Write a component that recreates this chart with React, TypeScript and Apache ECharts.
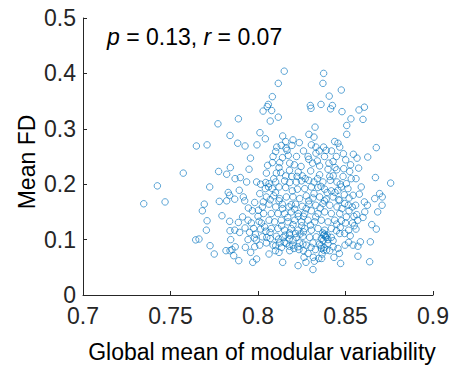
import React, { useEffect, useRef } from "react";
import * as echarts from "echarts";

// x: global mean of modular variability, y: mean FD
const subjects: [number, number][] = [
  [0.7347,0.1647],[0.7425,0.197],[0.7469,0.168],[0.7573,0.220],[0.7648,0.269],[0.7709,0.271],[0.7771,0.309],[0.7724,0.195],[0.7693,0.164],[0.7682,0.152],
  [0.7709,0.134],[0.7705,0.117],[0.7644,0.0995],[0.7663,0.101],[0.7726,0.089],[0.7750,0.074],[0.7775,0.223],[0.7779,0.169],[0.7794,0.143],[0.7821,0.218],
  [0.7842,0.230],[0.7840,0.288],[0.7888,0.318],[0.7884,0.274],[0.7926,0.269],[0.7994,0.271],[0.8011,0.293],[0.8042,0.282],[0.8029,0.332],[0.8053,0.340],
  [0.8059,0.344],[0.8078,0.333],[0.8082,0.358],[0.8116,0.382],[0.8150,0.404],[0.8116,0.321],[0.8070,0.314],[0.8141,0.287],[0.8375,0.400],[0.8371,0.382],
  [0.8407,0.359],[0.8476,0.370],[0.8360,0.344],[0.8299,0.342],[0.8303,0.337],[0.8425,0.342],[0.8415,0.336],[0.8480,0.331],[0.8531,0.318],[0.8507,0.306],
  [0.8507,0.290],[0.8577,0.334],[0.8608,0.339],[0.8600,0.317],[0.8326,0.303],[0.8291,0.290],[0.8676,0.266],[0.8627,0.249],[0.8671,0.212],[0.8758,0.202],
  [0.8695,0.183],[0.8710,0.177],[0.8667,0.174],[0.8709,0.162],[0.8684,0.150],[0.8625,0.162],[0.8579,0.182],[0.8650,0.127],[0.8676,0.119],[0.8642,0.096],
  [0.8638,0.060],[0.8571,0.070],[0.8472,0.057],[0.8314,0.046],[0.8229,0.053],[0.8274,0.059],[0.8141,0.059],[0.8063,0.074],[0.7992,0.065],[0.7970,0.059],
  [0.7890,0.062],[0.7861,0.071],[0.7840,0.080],[0.7817,0.080],[0.7851,0.082],[0.7870,0.087],[0.7928,0.086],[0.7958,0.077],[0.7981,0.087],[0.7844,0.100],
  [0.7840,0.116],[0.7867,0.117],[0.7888,0.131],[0.7838,0.133],[0.7830,0.185],[0.7838,0.180],[0.7867,0.173],[0.7821,0.170],[0.7869,0.210],[0.7899,0.212],
  [0.7935,0.204],[0.7949,0.227],[0.7957,0.247],[0.7893,0.189],[0.7916,0.177],[0.7924,0.170],[0.7945,0.157],[0.7968,0.152],[0.7981,0.167],[0.7912,0.141],
  [0.7943,0.135],[0.7962,0.130],[0.7926,0.121],[0.7895,0.113],[0.7952,0.113],[0.7979,0.103],[0.7943,0.100],[0.7975,0.120],[0.8015,0.119],[0.8006,0.133],
  [0.8038,0.123],[0.8025,0.105],[0.8050,0.104],[0.8069,0.113],[0.8101,0.089],[0.8118,0.101],[0.8135,0.086],[0.8120,0.077],[0.8181,0.080],[0.8179,0.101],
  [0.8200,0.099],[0.8227,0.087],[0.8234,0.082],[0.8257,0.092],[0.8263,0.068],[0.8286,0.075],[0.8303,0.086],[0.8328,0.082],[0.8316,0.068],[0.8322,0.061],
  [0.8347,0.066],[0.8364,0.066],[0.8375,0.081],[0.8362,0.084],[0.8366,0.074],[0.8392,0.081],[0.8410,0.080],[0.8430,0.087],[0.8434,0.068],[0.8465,0.075],
  [0.8457,0.084],[0.8497,0.090],[0.8518,0.095],[0.8543,0.090],[0.8571,0.088],[0.8585,0.096],[0.8527,0.107],[0.8495,0.111],[0.8467,0.111],[0.8518,0.117],
  [0.8560,0.119],[0.8570,0.135],[0.8548,0.142],[0.8564,0.145],[0.8539,0.159],[0.8516,0.162],[0.8558,0.162],[0.8608,0.168],[0.8520,0.175],[0.8543,0.180],
  [0.8493,0.181],[0.8476,0.195],[0.8505,0.201],[0.8533,0.210],[0.8524,0.223],[0.8575,0.229],[0.8529,0.235],[0.8501,0.244],[0.8545,0.254],[0.8566,0.247],
  [0.8488,0.255],[0.8467,0.267],[0.8438,0.277],[0.8457,0.274],[0.8375,0.267],[0.8390,0.261],[0.8331,0.267],[0.8305,0.271],[0.8236,0.275],[0.8200,0.280],
  [0.8194,0.270],[0.8158,0.277],[0.8133,0.270],[0.8107,0.267],[0.8101,0.259],[0.8166,0.261],[0.8173,0.252],[0.8086,0.250],[0.8082,0.239],[0.8124,0.239],
  [0.8181,0.238],[0.8208,0.235],[0.8246,0.232],[0.8286,0.250],[0.8331,0.256],[0.8339,0.242],[0.8312,0.238],[0.8352,0.233],[0.8400,0.227],[0.8429,0.241],
  [0.8448,0.250],[0.8450,0.226],[0.8410,0.214],[0.8352,0.217],[0.8301,0.224],[0.8253,0.215],[0.8223,0.214],[0.8194,0.214],[0.8158,0.215],[0.8130,0.221],
  [0.8105,0.220],[0.8055,0.234],[0.8048,0.220],[0.7992,0.204],[0.8015,0.200],[0.8044,0.203],[0.8063,0.201],[0.8101,0.204],[0.8152,0.206],[0.8181,0.203],
  [0.8219,0.204],[0.8248,0.206],[0.8290,0.207],[0.8320,0.204],[0.8371,0.204],[0.8413,0.207],[0.8451,0.204],[0.8486,0.214],[0.8514,0.192],[0.8457,0.189],
  [0.8419,0.188],[0.8381,0.191],[0.8343,0.194],[0.8305,0.195],[0.8267,0.192],[0.8225,0.191],[0.8196,0.188],[0.8158,0.194],[0.8120,0.195],[0.8082,0.192],
  [0.8042,0.192],[0.8010,0.183],[0.8048,0.177],[0.8090,0.179],[0.8124,0.174],[0.8162,0.177],[0.8200,0.177],[0.8238,0.174],[0.8276,0.179],[0.8314,0.175],
  [0.8352,0.177],[0.8390,0.173],[0.8429,0.177],[0.8467,0.171],[0.8495,0.165],[0.8451,0.159],[0.8410,0.162],[0.8371,0.165],[0.8330,0.162],[0.8291,0.164],
  [0.8253,0.160],[0.8215,0.164],[0.8177,0.159],[0.8139,0.164],[0.8101,0.159],[0.8063,0.164],[0.8025,0.159],[0.8002,0.153],[0.8032,0.147],[0.8076,0.147],
  [0.8114,0.147],[0.8152,0.147],[0.8190,0.150],[0.8229,0.147],[0.8267,0.147],[0.8305,0.152],[0.8343,0.147],[0.8381,0.150],[0.8419,0.147],[0.8467,0.147],
  [0.8505,0.141],[0.8476,0.134],[0.8438,0.135],[0.8400,0.132],[0.8362,0.135],[0.8324,0.132],[0.8286,0.135],[0.8248,0.132],[0.8210,0.135],[0.8171,0.132],
  [0.8133,0.135],[0.8095,0.132],[0.8063,0.135],[0.8076,0.120],[0.8114,0.120],[0.8152,0.117],[0.8190,0.120],[0.8229,0.117],[0.8267,0.120],[0.8305,0.117],
  [0.8343,0.120],[0.8381,0.117],[0.8419,0.120],[0.8448,0.116],[0.8375,0.108],[0.8390,0.104],[0.8362,0.102],[0.8333,0.105],[0.8295,0.104],[0.8257,0.106],
  [0.8219,0.104],[0.8181,0.108],[0.8143,0.104],[0.8105,0.106],[0.8070,0.102],[0.8419,0.104],[0.8429,0.098],[0.8400,0.093],[0.8352,0.092],[0.8314,0.094],
  [0.8276,0.090],[0.8238,0.094],[0.8200,0.090],[0.8162,0.093],[0.8124,0.094],[0.8086,0.090],[0.8048,0.094],[0.8010,0.090],[0.7990,0.099],
  [0.8190,0.163],[0.8210,0.155],[0.8230,0.142],[0.8170,0.140],[0.8250,0.125],[0.8200,0.127],[0.8180,0.112],[0.8215,0.111],[0.8240,0.110],[0.8260,0.114],
  [0.8300,0.126],[0.8330,0.141],[0.8355,0.157],[0.8380,0.170],[0.8395,0.185],[0.8360,0.196],[0.8340,0.210],[0.8320,0.183],[0.8290,0.170],[0.8275,0.156],
  [0.8260,0.142],[0.8140,0.156],[0.8120,0.170],[0.8100,0.185],[0.8135,0.125],[0.8155,0.108],[0.8380,0.110],[0.8385,0.106],[0.8370,0.112],[0.8395,0.108],
  [0.8400,0.100],[0.8372,0.098],[0.8360,0.089],[0.8378,0.086],[0.8150,0.095],[0.8180,0.088],[0.8205,0.084],[0.8100,0.080],[0.8260,0.080],[0.8450,0.128],
  [0.8470,0.122],[0.8500,0.130],[0.8520,0.152],[0.8480,0.156],[0.8460,0.172],[0.8440,0.185],[0.8470,0.200],[0.8430,0.215],[0.8490,0.228],[0.8405,0.238],
  [0.8380,0.250],[0.8350,0.260],[0.8320,0.285],[0.8260,0.260],[0.8220,0.250],[0.8230,0.222],[0.8270,0.210],[0.8180,0.225],[0.8120,0.230],[0.8090,0.210],
  [0.8060,0.195],[0.8070,0.172],[0.8030,0.168],[0.8000,0.142],[0.8020,0.130],[0.8045,0.115],[0.7985,0.110],[0.8160,0.265],[0.8140,0.248],[0.8290,0.245],
  [0.8420,0.260],[0.8440,0.230],[0.8560,0.210],[0.8590,0.195],[0.8610,0.150],[0.8600,0.140],[0.8540,0.130],[0.8550,0.125]
];

const xTicks = [0.7, 0.75, 0.8, 0.85, 0.9];
const yTicks = [0, 0.1, 0.2, 0.3, 0.4, 0.5];
const annotation = "{i|p} = 0.13, {i|r} = 0.07";
const xTitle = "Global mean of modular variability";
const yTitle = "Mean FD";

const FONT = "'Liberation Sans', Arial, Helvetica, sans-serif";
const AXIS_COLOR = "#262626";

export default function App() {
  const ref = useRef<HTMLDivElement>(null);
  useEffect(() => {
    if (!ref.current) return;
    const chart = echarts.init(ref.current, undefined, { renderer: "svg" });
    chart.setOption({
      animation: false,
      backgroundColor: "#ffffff",
      grid: { left: 83, right: 19, top: 18, bottom: 72, containLabel: false, outerBoundsMode: "none" },
      xAxis: {
        type: "value",
        min: xTicks[0],
        max: xTicks[xTicks.length - 1],
        interval: 0.05,
        splitLine: { show: false },
        axisLine: { show: true, lineStyle: { color: AXIS_COLOR, width: 1 } },
        axisTick: { show: true, inside: true, length: 4, lineStyle: { color: AXIS_COLOR } },
        axisLabel: {
          show: true,
          margin: 12,
          lineHeight: 18,
          color: AXIS_COLOR,
          fontSize: 23,
          fontFamily: FONT,
          formatter: (v: number) => String(+v.toFixed(2)),
          showMinLabel: true,
          showMaxLabel: true,
        },
      },
      yAxis: {
        type: "value",
        min: yTicks[0],
        max: yTicks[yTicks.length - 1],
        interval: 0.1,
        splitLine: { show: false },
        axisLine: { show: true, lineStyle: { color: AXIS_COLOR, width: 1 } },
        axisTick: { show: true, inside: true, length: 4, lineStyle: { color: AXIS_COLOR } },
        axisLabel: {
          show: true,
          margin: 7,
          lineHeight: 16,
          color: AXIS_COLOR,
          fontSize: 23,
          fontFamily: FONT,
          formatter: (v: number) => String(+v.toFixed(2)),
          showMinLabel: true,
          showMaxLabel: true,
        },
      },
      graphic: [
        {
          type: "text",
          left: 107,
          top: 25,
          style: {
            text: annotation,
            fill: "#000",
            fontSize: 23,
            fontFamily: FONT,
            rich: { i: { fontStyle: "italic", fontSize: 23, fontFamily: FONT, fill: "#000" } },
          },
        },
        {
          type: "text",
          x: 262,
          y: 352,
          style: { text: xTitle, fill: "#000", fontSize: 23, fontFamily: FONT, align: "center", verticalAlign: "middle" },
        },
        {
          type: "text",
          x: 27,
          y: 162,
          rotation: Math.PI / 2,
          style: { text: yTitle, fill: "#000", fontSize: 23, fontFamily: FONT, align: "center", verticalAlign: "middle" },
        },
      ],
      series: [
        {
          type: "scatter",
          data: subjects,
          symbol: "circle",
          symbolSize: 6.5,
          itemStyle: { color: "rgba(0,0,0,0)", borderColor: "#0072BD", borderWidth: 0.8 },
          emphasis: { disabled: true },
        },
      ],
    });
    return () => chart.dispose();
  }, []);
  return <div ref={ref} style={{ position: "fixed", left: 0, top: 0, width: 452, height: 367 }} />;
}
